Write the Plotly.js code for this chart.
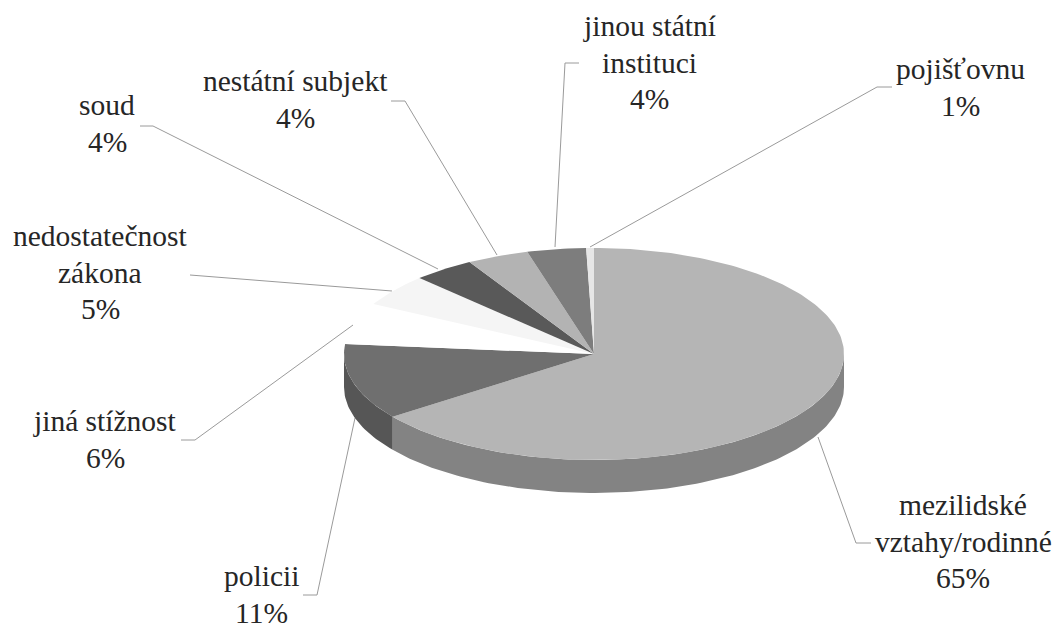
<!DOCTYPE html>
<html><head><meta charset="utf-8">
<script src="https://cdn.plot.ly/plotly-3.0.1.min.js"></script>
<style>html,body{margin:0;padding:0;background:#fff}</style></head>
<body><div id="chart" style="width:1054px;height:623px"></div>
<script>
// share of the full turn each slice covers, clockwise from the top
const categories = ['mezilidské vztahy/rodinné','policii','jiná stížnost','nedostatečnost zákona','soud','nestátní subjekt','jinou státní instituci','pojišťovnu'];
const sliceValues = [64.9, 11.6, 6.3, 4.9, 4.0, 4.0, 3.8, 0.5];
const percentLabels = ['65%','11%','6%','5%','4%','4%','4%','1%'];
const topColors = ['#b5b5b5','#6f6f6f','#ffffff','#f5f5f5','#595959','#b3b3b3','#7d7d7d','#e6e6e6'];
const wallColors = ['#838383','#565656','#e0e0e0','#e0e0e0','#444444','#8a8a8a','#5c5c5c','#c8c8c8'];

const labelLines = [
  ['mezilidské','vztahy/rodinné','65%'],['policii','11%'],['jiná stížnost','6%'],
  ['nedostatečnost','zákona','5%'],['soud','4%'],['nestátní subjekt','4%'],
  ['jinou státní','instituci','4%'],['pojišťovnu','1%']];
const labelAnchors = [[963,505],[261,576],[105,421],[100,236],[107,105],[295,81],[649,26],[960,69]];
const lineStep = 36.7;

const leaders = [
  [[818,437],[856,543],[871,543]],
  [[355,418],[317,595],[303,595]],
  [[353,325],[195,440],[181,440]],
  [[392,291],[190,275]],
  [[438,269],[153,126],[140,126]],
  [[497,255],[405,101],[391,101]],
  [[555,247],[565,63],[579,63]],
  [[590,247],[877,87],[892,87]]
];

const cx = 594, cy = 354, rx = 250, ry = 106, depth = 33;
const toPoint = (f, dy) => {
  const t = f * 2 * Math.PI;
  return [cx + rx * Math.sin(t), cy - ry * Math.cos(t) + dy];
};
const total = sliceValues.reduce((a, b) => a + b, 0);
const traces = [];
let acc = 0;
const bounds = sliceValues.map(v => { const s = acc; acc += v / total; return [s, acc]; });

// side walls (front half only)
bounds.forEach(([a, b], i) => {
  const s = Math.max(a, 0.25), e = Math.min(b, 0.75);
  if (e <= s) return;
  const xs = [], ys = [];
  const n = Math.ceil((e - s) * 300);
  for (let k = 0; k <= n; k++) { const p = toPoint(s + (e - s) * k / n, 0); xs.push(p[0]); ys.push(p[1]); }
  for (let k = n; k >= 0; k--) { const p = toPoint(s + (e - s) * k / n, depth); xs.push(p[0]); ys.push(p[1]); }
  traces.push({x: xs, y: ys, mode: 'lines', fill: 'toself', fillcolor: wallColors[i], line: {width: 0}, hoverinfo: 'skip', name: categories[i] + ' wall', showlegend: false});
});
// top faces
bounds.forEach(([a, b], i) => {
  const xs = [cx], ys = [cy];
  const n = Math.ceil((b - a) * 300) + 1;
  for (let k = 0; k <= n; k++) { const p = toPoint(a + (b - a) * k / n, 0); xs.push(p[0]); ys.push(p[1]); }
  xs.push(cx); ys.push(cy);
  traces.push({x: xs, y: ys, mode: 'lines', fill: 'toself', fillcolor: topColors[i], line: {width: 0}, name: categories[i], text: percentLabels[i], hoverinfo: 'name+text', showlegend: false});
});

const annotations = [];
labelLines.forEach((lines, i) => lines.forEach((ln, j) => annotations.push({
  x: labelAnchors[i][0], y: labelAnchors[i][1] + j * lineStep, text: ln, showarrow: false,
  xanchor: 'center', yanchor: 'middle', font: {family: '"Liberation Serif", serif', size: 29.5, color: '#262626'}
})));
const shapes = leaders.map(pts => ({
  type: 'path', path: pts.map((p, k) => (k ? 'L' : 'M') + p[0] + ',' + p[1]).join(' '),
  line: {color: '#9a9a9a', width: 1}, layer: 'below'
}));

Plotly.newPlot('chart', traces, {
  width: 1054, height: 623, margin: {l: 0, r: 0, t: 0, b: 0},
  paper_bgcolor: '#fff', plot_bgcolor: '#fff', showlegend: false,
  xaxis: {range: [0, 1054], visible: false, fixedrange: true},
  yaxis: {range: [623, 0], visible: false, fixedrange: true},
  annotations, shapes
}, {displayModeBar: false, staticPlot: true});
</script></body></html>
